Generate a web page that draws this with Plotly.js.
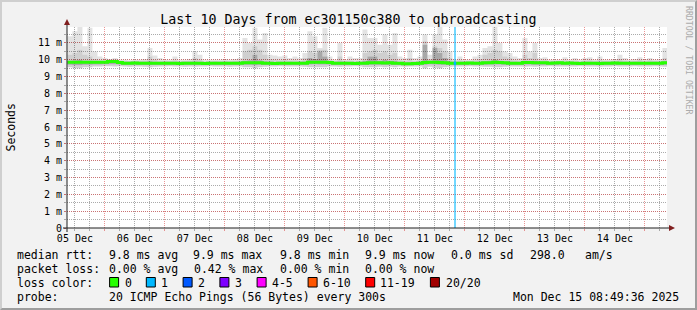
<!DOCTYPE html>
<html><head><meta charset="utf-8">
<script src="https://cdn.plot.ly/plotly-3.0.1.min.js"></script>
<style>
html,body{margin:0;padding:0;background:#f2f2f2;}
#wrap{position:relative;width:697px;height:310px;overflow:hidden;}
#chart{width:697px;height:310px;}
#frame{position:absolute;left:0;top:0;width:697px;height:310px;box-sizing:border-box;border-style:solid;border-width:2px;border-color:#cfcfcf #9e9e9e #9e9e9e #cfcfcf;pointer-events:none;}
</style></head><body>
<div id="wrap"><div id="chart"></div><div id="frame"></div></div>
<script>
// ---------------- DATA ----------------
const titleText = 'Last 10 Days from ec301150c380 to qbroadcasting';
const rangeStart = '2025-12-05 08:49:36';
const rangeEnd = '2025-12-15 08:49:36';
const stepStart = '2025-12-05 09:00:00';
const stepMs = 7200000; // 2 hour steps

const dayLabels = ['05 Dec','06 Dec','07 Dec','08 Dec','09 Dec','10 Dec','11 Dec','12 Dec','13 Dec','14 Dec'];
const dayLabelTimes = ['2025-12-05 12:00','2025-12-06 12:00','2025-12-07 12:00','2025-12-08 12:00','2025-12-09 12:00',
  '2025-12-10 12:00','2025-12-11 12:00','2025-12-12 12:00','2025-12-13 12:00','2025-12-14 12:00'];
const yTickVals = [0,1,2,3,4,5,6,7,8,9,10,11];
const yTickText = ['0','1 m','2 m','3 m','4 m','5 m','6 m','7 m','8 m','9 m','10 m','11 m'];

// RTT values in ms
const medianRtt = [
 9.86,9.86,9.85,9.86,9.86,9.85,9.86,9.86,9.9,9.9,
 9.84,9.8,9.8,9.81,9.8,9.79,9.8,9.79,9.79,9.8,9.8,
 9.79,9.78,9.8,9.79,9.8,9.79,9.78,9.79,9.8,9.79,9.8,9.79,9.8,9.8,
 9.82,9.82,9.83,9.82,9.8,9.79,9.78,9.8,9.79,9.8,9.79,9.8,9.8,
 9.85,9.86,9.86,9.85,9.84,
 9.8,9.79,9.8,9.79,9.78,9.79,9.8,
 9.82,9.83,9.82,9.81,9.82,9.8,9.79,9.76,9.77,9.78,
 9.8,9.84,9.86,9.85,9.84,9.82,9.8,
 9.79,9.8,9.8,9.81,9.8,9.79,
 9.82,9.83,9.85,9.84,9.82,9.8,9.8,9.79,
 9.84,9.84,9.83,9.82,9.82,9.8,9.81,9.82,9.8,9.81,
 9.79,9.78,9.8,9.8,9.79,9.78,9.8,9.8,9.81,9.8,
 9.8,9.79,9.8,9.8,9.79,9.8,9.8,9.79,9.82,9.82];

const pingMin = [
 9.55,9.5,9.5,9.55,9.55,9.6,9.6,9.62,9.62,9.6,
 9.62,9.6,9.58,9.6,9.6,9.58,9.55,9.58,9.6,9.6,
 9.62,9.6,9.6,9.58,9.6,9.58,9.6,9.6,9.62,9.6,
 9.6,9.6,9.58,9.6,9.6,9.55,9.55,9.5,9.55,9.58,
 9.6,9.6,9.62,9.6,9.6,9.6,9.6,9.58,9.55,9.55,
 9.55,9.55,9.6,9.6,9.58,9.6,9.6,9.62,9.6,9.55,
 9.55,9.55,9.58,9.55,9.58,9.55,9.6,9.58,9.6,9.6,
 9.6,9.5,9.58,9.52,9.5,9.55,9.58,9.6,9.6,9.6,
 9.62,9.6,9.6,9.58,9.58,9.55,9.55,9.58,9.6,9.6,
 9.6,9.58,9.6,9.58,9.6,9.6,9.62,9.6,9.6,9.6,
 9.6,9.6,9.62,9.6,9.6,9.6,9.58,9.6,9.6,9.62,
 9.6,9.6,9.6,9.62,9.6,9.6,9.6,9.62,9.6,9.58,9.58];

const pingLow = [
 9.7,9.68,9.68,9.7,9.7,9.72,9.72,9.73,9.74,9.74,
 9.72,9.71,9.7,9.71,9.71,9.7,9.69,9.7,9.7,9.71,
 9.71,9.7,9.69,9.7,9.7,9.7,9.7,9.69,9.7,9.71,
 9.7,9.71,9.7,9.71,9.71,9.7,9.7,9.68,9.7,9.7,
 9.7,9.69,9.71,9.7,9.71,9.7,9.71,9.71,9.72,9.73,
 9.72,9.72,9.72,9.71,9.7,9.71,9.7,9.69,9.7,9.7,
 9.71,9.71,9.71,9.7,9.71,9.7,9.69,9.67,9.68,9.69,
 9.7,9.7,9.73,9.72,9.7,9.71,9.7,9.7,9.7,9.71,
 9.71,9.7,9.7,9.71,9.72,9.72,9.72,9.71,9.7,9.7,
 9.7,9.72,9.72,9.71,9.71,9.71,9.7,9.71,9.71,9.7,
 9.71,9.7,9.69,9.7,9.7,9.7,9.69,9.7,9.7,9.71,
 9.7,9.7,9.7,9.7,9.7,9.7,9.7,9.71,9.7,9.71,9.71];

const pingDarkTop = [
 9.95,9.98,10.0,9.95,9.95,9.93,9.93,9.93,9.97,9.97,
 9.9,9.88,9.88,9.89,9.88,9.88,9.92,9.88,9.87,9.88,
 9.88,9.88,9.86,9.88,9.88,9.9,9.88,9.86,9.87,9.88,
 9.87,9.88,9.87,9.88,9.88,9.95,9.98,10.3,9.98,9.92,
 9.88,9.86,9.88,9.87,9.88,9.87,9.88,9.9,10.1,10.05,
 10.5,10.2,9.92,9.88,9.9,9.88,9.87,9.86,9.87,9.95,
 10.2,10.2,9.95,10.0,9.95,9.95,9.87,9.84,9.86,9.86,
 9.88,10.9,9.95,10.7,10.4,10.1,9.9,9.87,9.88,9.88,
 9.89,9.88,9.88,9.92,9.95,10.0,9.95,9.9,9.88,9.88,
 9.87,9.95,9.92,9.95,9.9,9.9,9.88,9.89,9.9,9.88,
 9.89,9.87,9.86,9.88,9.88,9.87,9.86,9.88,9.88,9.89,
 9.9,9.88,9.87,9.88,9.88,9.87,9.88,9.88,9.87,9.92,9.92];

const pingMidTop = [
 10.3,10.4,10.6,10.3,10.2,10.05,9.98,9.97,10.0,10.02,
 9.96,9.94,9.93,9.94,9.94,9.96,10.2,10.0,9.94,9.94,
 9.93,9.98,9.92,9.93,9.95,10.1,10.0,9.92,9.93,9.93,
 9.93,9.95,9.93,9.95,9.96,10.5,10.6,10.8,10.6,10.3,
 10.05,10.0,9.98,10.0,9.96,9.98,9.95,10.1,10.5,10.4,
 10.6,10.6,10.0,9.94,10.2,9.94,9.96,9.95,9.95,10.4,
 10.5,10.6,10.4,10.5,10.3,10.4,9.98,9.95,10.1,9.93,
 9.98,11.1,10.05,10.8,10.7,10.5,10.1,9.95,9.98,9.94,
 9.95,9.98,10.05,10.3,10.4,10.6,10.5,10.2,10.1,9.98,
 9.96,10.3,10.1,10.4,9.98,10.0,9.94,9.94,9.95,9.98,
 9.95,9.96,9.93,9.96,9.98,9.94,10.0,9.94,9.94,9.96,
 10.05,9.96,9.94,9.95,10.0,9.95,9.98,9.94,9.95,10.1,10.1];

const pingMax = [
 11.4,11.7,11.95,10.8,11.9,10.5,10.2,10.1,10.05,10.1,
 10.0,10.0,9.98,10.0,10.0,10.05,10.7,10.25,10.1,10.0,
 10.0,10.2,10.0,10.0,10.05,10.5,10.3,10.0,10.0,10.0,
 10.0,10.05,10.0,10.05,10.1,11.3,11.0,11.9,11.2,11.6,
 10.3,10.25,10.2,10.25,10.1,10.2,10.1,10.4,11.7,11.4,
 10.7,11.9,10.2,10.0,11.0,10.0,10.2,10.1,10.1,11.8,
 11.3,11.3,10.9,11.5,10.9,11.6,10.2,10.1,10.6,10.1,
 10.2,11.5,10.3,11.5,11.95,11.2,10.5,10.0,10.2,10.0,
 10.0,10.2,10.3,10.7,10.8,11.95,11.0,10.5,10.4,10.2,
 10.1,11.3,10.5,11.0,10.1,10.15,10.0,10.0,10.0,10.15,
 10.0,10.1,10.0,10.1,10.15,10.0,10.2,10.0,10.0,10.05,
 10.3,10.1,10.0,10.05,10.15,10.05,10.1,10.0,10.05,10.7,10.7];

// packet loss events (hour start, lost pings of 20)
const lossTimes = ['2025-12-11 19:30:00'];
const lossCounts = [1];

// legend
const lossLabels = ['0','1','2','3','4-5','6-10','11-19','20/20'];
const lossColors = ['#26ff00','#00b8ff','#0059ff','#7e00ff','#ff00ff','#ff5500','#ff0000','#a10000'];
const lossColorForCount = c => c <= 0 ? lossColors[0] : c === 1 ? lossColors[1] : c === 2 ? lossColors[2] :
  c === 3 ? lossColors[3] : c <= 5 ? lossColors[4] : c <= 10 ? lossColors[5] : c <= 19 ? lossColors[6] : lossColors[7];

const legendRtt = ['median rtt:','9.8 ms avg','9.9 ms max','9.8 ms min','9.9 ms now','0.0 ms sd','298.0','am/s'];
const legendLoss = ['packet loss:','0.00 % avg','0.42 % max','0.00 % min','0.00 % now'];
const legendProbe = ['probe:','20 ICMP Echo Pings (56 Bytes) every 300s'];
const stampText = 'Mon Dec 15 08:49:36 2025';
const watermark = 'RRDTOOL / TOBI OETIKER';

// ---------------- LAYOUT HELPERS (pixels) ----------------
const PL = 67, PT = 27, PW = 600, PB = 228, PH = PB - PT;
const yTop = 11.95;
const px = x => (x - PL) / PW;
const py = y => (PB - y) / PH;
const FONT = '"DejaVu Sans Mono", monospace';

const rttX = [17, 108.5, 193.3, 279.7, 365.2, 451.2, 529.6, 585.4];
const lossX = [17, 108.5, 194.2, 279.7, 365.2];
const probeX = [17, 108.5];
const swatchX = [109.6, 146.3, 183.1, 219.9, 257.1, 308.1, 365.7, 430.4];
const swatchLabelX = [124.6, 161.4, 197.7, 235, 271.7, 322.7, 380.3, 445.9];
const lineY = [254.5, 268.5, 282.5, 296.5];

const toMs = s => Date.parse(s.replace(' ', 'T') + 'Z');
const toStr = ms => new Date(ms).toISOString().slice(0, 19).replace('T', ' ');

// ---------------- TRACES ----------------
const band = (y, fillcolor) => ({
  type: 'scatter', mode: 'lines', x0: stepStart, dx: stepMs, y: y,
  line: {width: 0, shape: 'hv'}, fill: fillcolor ? 'tonexty' : 'none', fillcolor: fillcolor,
  hoverinfo: 'skip'
});
const traces = [
  band(pingMin, null),
  band(pingLow, 'rgba(0,0,0,0.18)'),
  band(pingDarkTop, 'rgba(0,0,0,0.34)'),
  band(pingMidTop, 'rgba(0,0,0,0.19)'),
  band(pingMax, 'rgba(0,0,0,0.11)'),
  {type: 'scatter', mode: 'lines', x0: stepStart, dx: stepMs, y: medianRtt,
   line: {width: 3, color: lossColors[0], shape: 'hv'}, hoverinfo: 'skip'},
  {type: 'bar', xaxis: 'x2', x: lossTimes, y: lossTimes.map(() => yTop),
   width: lossTimes.map(() => 3600000), offset: 0,
   marker: {color: lossCounts.map(c => lossColorForCount(c)), opacity: 0.55, line: {width: 0}}, hoverinfo: 'skip'}
];
lossTimes.forEach((t, k) => {
  const ms = toMs(t);
  const idx = Math.floor((ms - toMs(stepStart)) / stepMs);
  traces.push({type: 'scatter', mode: 'lines', x: [t, toStr(ms + 3600000)], y: [medianRtt[idx], medianRtt[idx]],
    line: {width: 3, color: lossColorForCount(lossCounts[k])}, hoverinfo: 'skip'});
});

// ---------------- ANNOTATIONS / SHAPES ----------------
const ann = [];
const txt = (x, y, text, opts) => ann.push(Object.assign({xref: 'paper', yref: 'paper', x: px(x), y: py(y), text: text,
  showarrow: false, xanchor: 'left', yanchor: 'middle', font: {family: FONT, size: 11.5, color: '#000'}, borderpad: 0}, opts || {}));
legendRtt.forEach((t, i) => txt(rttX[i] - 1, lineY[0], t));
legendLoss.forEach((t, i) => txt(lossX[i] - 1, lineY[1], t));
txt(17 - 1, lineY[2], 'loss color:');
lossLabels.forEach((t, i) => txt(swatchLabelX[i] - 1, lineY[2], t));
legendProbe.forEach((t, i) => txt(probeX[i] - 1, lineY[3], t));
txt(680, lineY[3], stampText, {xanchor: 'right'});
txt(10, (PT + PB) / 2, 'Seconds', {xanchor: 'center', textangle: -90});
txt(689, 60, watermark, {xanchor: 'center', textangle: 90, font: {family: FONT, size: 8.2, color: '#ababab'}});

const shapes = [];
lossColors.forEach((c, i) => shapes.push({type: 'rect', xref: 'paper', yref: 'paper',
  x0: px(swatchX[i]), x1: px(swatchX[i] + 9), y0: py(lineY[2] - 5), y1: py(lineY[2] + 4.5),
  fillcolor: c, line: {color: '#000', width: 1}, layer: 'above'}));
// axes with arrows (rrdtool style)
shapes.push({type: 'line', xref: 'paper', yref: 'paper', x0: px(PL - 4), x1: px(PL + PW + 4), y0: 0, y1: 0,
  line: {color: '#1f1f1f', width: 1}, layer: 'above'});
shapes.push({type: 'line', xref: 'paper', yref: 'paper', x0: 0, x1: 0, y0: py(PB + 4), y1: py(PT - 4),
  line: {color: '#1f1f1f', width: 1}, layer: 'above'});
shapes.push({type: 'path', xref: 'paper', yref: 'paper', layer: 'above', fillcolor: '#801f1f', line: {width: 0},
  path: `M ${px(PL + PW + 2)},${py(PB - 3)} L ${px(PL + PW + 2)},${py(PB + 3)} L ${px(PL + PW + 8)},${py(PB)} Z`});
shapes.push({type: 'path', xref: 'paper', yref: 'paper', layer: 'above', fillcolor: '#801f1f', line: {width: 0},
  path: `M ${px(PL - 3)},${py(PT - 2)} L ${px(PL + 3)},${py(PT - 2)} L ${px(PL)},${py(PT - 8)} Z`});

const gridMajor = 'rgba(222,79,79,0.6)';
const gridMinor = 'rgba(143,143,143,0.75)';

const layout = {
  width: 697, height: 310,
  margin: {l: PL, r: 697 - PL - PW, t: PT, b: 310 - PB, pad: 0},
  paper_bgcolor: '#f2f2f2', plot_bgcolor: '#ffffff',
  showlegend: false, bargap: 0,
  font: {family: FONT, size: 10, color: '#000'},
  title: {text: titleText, font: {family: FONT, size: 13.3, color: '#000'},
    xref: 'container', x: 0.5, xanchor: 'center', yref: 'container', y: 1 - 19 / 310, yanchor: 'middle'},
  xaxis: {type: 'date', range: [rangeStart, rangeEnd], tick0: '2025-12-05 00:00', dtick: 86400000,
    showticklabels: false, ticks: 'outside', ticklen: 2, tickcolor: gridMajor,
    showgrid: true, gridcolor: gridMajor, griddash: '1px,1px', gridwidth: 1,
    minor: {tick0: '2025-12-05 00:00', dtick: 21600000, showgrid: true, gridcolor: gridMinor, griddash: '1px,1px',
      ticks: 'outside', ticklen: 2, tickcolor: gridMinor},
    zeroline: false, showline: false, fixedrange: true},
  xaxis2: {type: 'date', overlaying: 'x', anchor: 'y', side: 'bottom', range: [rangeStart, rangeEnd],
    tickmode: 'array', tickvals: dayLabelTimes, ticktext: dayLabels, ticks: '', showgrid: false, zeroline: false,
    showline: false, tickfont: {family: FONT, size: 10, color: '#000'}, ticklabelstandoff: 3, fixedrange: true},
  yaxis: {range: [0, yTop], tickmode: 'array', tickvals: yTickVals, ticktext: yTickText,
    ticks: 'outside', ticklen: 2, tickcolor: gridMajor,
    showgrid: true, gridcolor: gridMajor, griddash: '1px,1px', gridwidth: 1,
    minor: {tick0: 0, dtick: 0.5, showgrid: true, gridcolor: gridMinor, griddash: '1px,1px', ticks: 'outside', ticklen: 2, tickcolor: gridMinor},
    zeroline: false, showline: false, tickfont: {family: FONT, size: 10, color: '#000'}, fixedrange: true},
  shapes: shapes,
  annotations: ann
};

Plotly.newPlot('chart', traces, layout, {staticPlot: true, displayModeBar: false});
</script></body></html>
